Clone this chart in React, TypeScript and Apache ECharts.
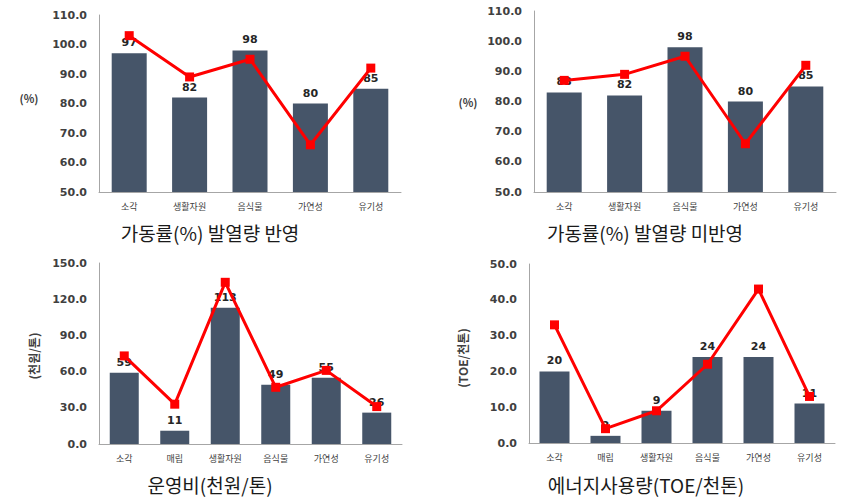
import React, { useEffect, useRef } from "react";
import * as echarts from "echarts";

const cats5 = ["소각", "생활자원", "음식물", "가연성", "유기성"];
const cats6 = ["소각", "매립", "생활자원", "음식물", "가연성", "유기성"];

const rateWithBars = [97, 82, 98, 80, 85];
const rateWithLine = [103, 89, 95, 66, 92];
const rateWithoutBars = [83, 82, 98, 80, 85];
const rateWithoutLine = [87, 89, 95, 66, 92];
const costBars = [59, 11, 113, 49, 55, 26];
const costLine = [73, 33, 134, 47, 61, 31];
const energyBars = [20, 2, 9, 24, 24, 11];
const energyLine = [33, 4, 9, 22, 43, 13];

const captions = [
  "가동률(%) 발열량 반영",
  "가동률(%) 발열량 미반영",
  "운영비(천원/톤)",
  "에너지사용량(TOE/천톤)",
];
const yNames = ["(%)", "(%)", "(천원/톤)", "(TOE/천톤)"];

const BAR = "#465569";
const RED = "#ff0000";
const TICK_FONT = "DejaVu Sans";

export default function App() {
  const ref = useRef<HTMLDivElement>(null);
  useEffect(() => {
    const chart = echarts.init(ref.current!, null, { renderer: "svg" });
    const grids = [
      { left: 99, top: 15, width: 302, height: 177 },
      { left: 534, top: 11, width: 302, height: 181 },
      { left: 99, top: 263, width: 303, height: 181 },
      { left: 529, top: 264, width: 306, height: 179 },
    ];
    const yCfg = [
      { min: 50, max: 110, interval: 10 },
      { min: 50, max: 110, interval: 10 },
      { min: 0, max: 150, interval: 30 },
      { min: 0, max: 50, interval: 10 },
    ];
    const catsList = [cats5, cats5, cats6, cats6];
    const barsList = [rateWithBars, rateWithoutBars, costBars, energyBars];
    const linesList = [rateWithLine, rateWithoutLine, costLine, energyLine];
    const barWidths = [35, 35, 29, 30];

    const xAxis = grids.map((_, i) => ({
      type: "category",
      gridIndex: i,
      data: catsList[i],
      axisLine: { lineStyle: { color: "#a6a6a6", width: 1 } },
      axisTick: { show: false },
      axisLabel: {
        fontFamily: "Noto Sans CJK KR",
        fontSize: 9,
        color: "#404040",
        margin: 10,
        interval: 0,
      },
    }));
    const yAxis = grids.map((_, i) => ({
      type: "value",
      gridIndex: i,
      ...yCfg[i],
      axisLine: { show: true, lineStyle: { color: "#a6a6a6", width: 1 } },
      axisTick: { show: false },
      splitLine: { show: false },
      axisLabel: {
        fontFamily: TICK_FONT,
        fontWeight: "bold",
        fontSize: 11,
        color: "#404040",
        margin: 12,
        formatter: (v: number) => v.toFixed(1),
      },
    }));
    const series: any[] = [];
    grids.forEach((_, i) => {
      series.push({
        type: "bar",
        xAxisIndex: i,
        yAxisIndex: i,
        data: barsList[i],
        barWidth: barWidths[i],
        itemStyle: { color: BAR },
        label: {
          show: true,
          position: "top",
          distance: 5,
          fontFamily: TICK_FONT,
          fontWeight: "bold",
          fontSize: 11,
          color: "#262626",
        },
        z: 2,
      });
      series.push({
        type: "line",
        xAxisIndex: i,
        yAxisIndex: i,
        data: linesList[i],
        symbol: "rect",
        symbolSize: 9,
        lineStyle: { color: RED, width: 3 },
        itemStyle: { color: RED },
        zlevel: 1,
        z: 3,
      });
    });

    const capPos = [
      [210, 232],
      [645, 232],
      [210, 484],
      [646, 484],
    ];
    const namePos = [
      [29, 98, 0],
      [468, 102, 0],
      [33, 356, Math.PI / 2],
      [462, 358, Math.PI / 2],
    ];
    const graphic: any[] = [];
    captions.forEach((c, i) => {
      graphic.push({
        type: "text",
        x: capPos[i][0],
        y: capPos[i][1],
        style: {
          text: c,
          fontFamily: "Noto Sans CJK KR",
          fontSize: 19,
          fill: "#1a1a1a",
          align: "center",
          verticalAlign: "middle",
        },
      });
    });
    yNames.forEach((n, i) => {
      graphic.push({
        type: "text",
        x: namePos[i][0],
        y: namePos[i][1],
        rotation: namePos[i][2],
        style: {
          text: n,
          fontFamily: "Noto Sans CJK KR",
          fontWeight: "bold",
          fontSize: i < 2 ? 11 : 12,
          fill: "#404040",
          align: "center",
          verticalAlign: "middle",
        },
      });
    });

    chart.setOption({
      animation: false,
      backgroundColor: "#ffffff",
      grid: grids,
      xAxis,
      yAxis,
      series,
      graphic,
    });
    return () => chart.dispose();
  }, []);
  return (
    <div
      ref={ref}
      style={{ position: "fixed", left: 0, top: 0, width: 844, height: 498 }}
    />
  );
}
